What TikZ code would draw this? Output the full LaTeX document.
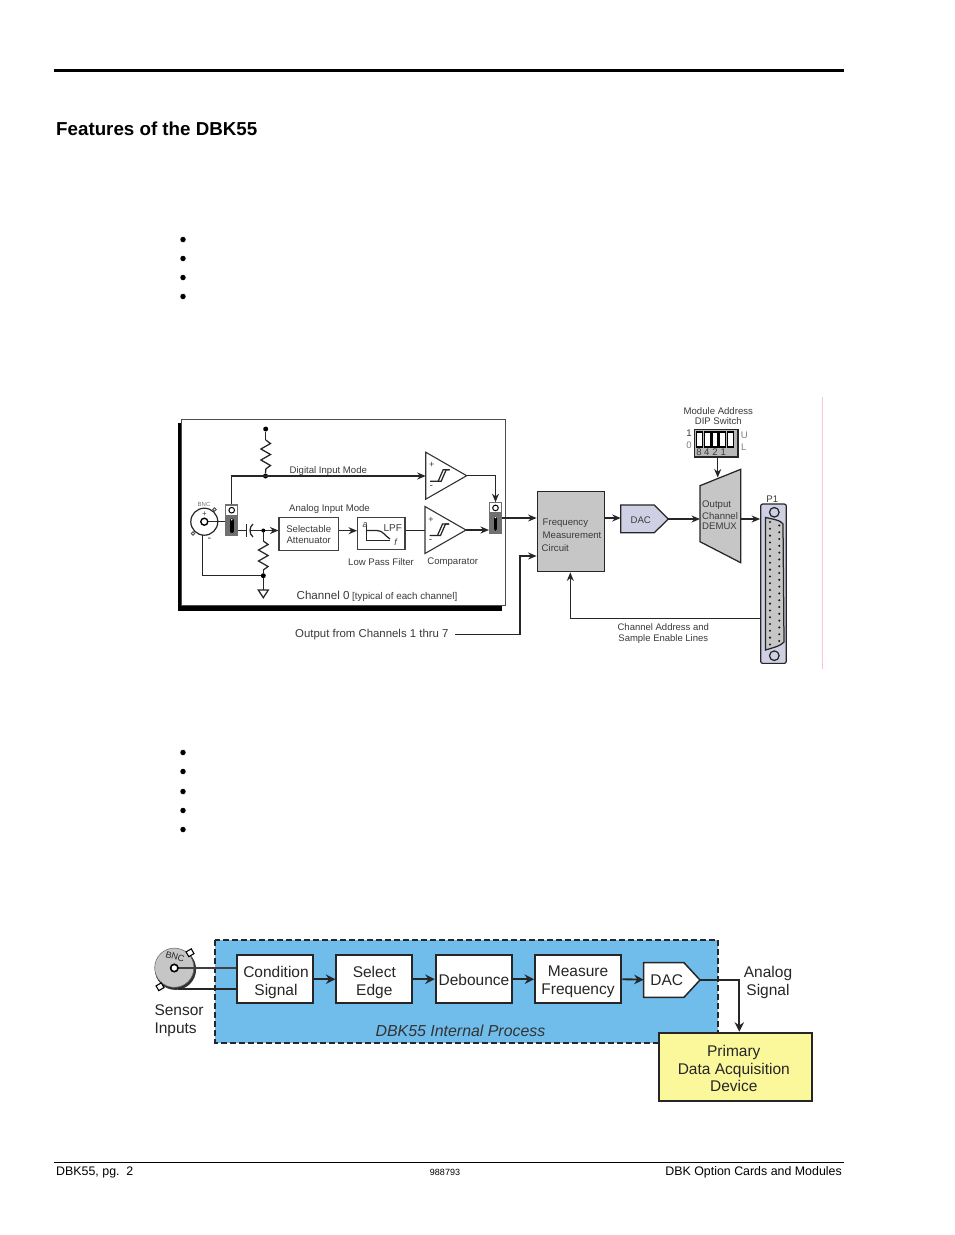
\documentclass[tikz,border=0pt]{standalone}
\usepackage{fontspec}
\setmainfont{Liberation Sans}
\usetikzlibrary{arrows.meta,calc}
\definecolor{txt}{HTML}{3A3A3A}
\definecolor{lav}{HTML}{CFD0E4}
\definecolor{gry}{HTML}{C6C6C6}
\definecolor{dgry}{HTML}{707070}
\definecolor{sky}{HTML}{70BDEC}
\definecolor{yel}{HTML}{FBF89C}
\definecolor{pnk}{HTML}{FFC4CC}
\newcommand{\fs}[1]{\fontsize{#1}{#1}\selectfont}
\tikzset{
  x=1pt,y=-1pt,
  lab/.style={inner sep=0pt,text=txt,font=\fs{9.6}},
  big/.style={inner sep=0pt,text=black!85,font=\fontsize{15.5}{18}\selectfont,align=center},
  box/.style={draw=black,line width=1.2pt,fill=white,inner sep=0pt},
  bluebox/.style={draw=black!85,line width=1.9pt,fill=white,inner sep=0pt,minimum height=47.7pt},
  wire/.style={draw=black!85,line width=1.25pt},
  arr/.style={wire,-{Stealth[length=8.5pt,width=7pt]}},
  bwire/.style={draw=black!85,line width=1.9pt},
  barr/.style={bwire,-{Stealth[length=9.5pt,width=9.5pt]}},
  junc/.style={circle,fill=black,inner sep=0pt,minimum size=5pt},
  bul/.style={circle,fill=black,inner sep=0pt,minimum size=5.5pt},
  zigres/.pic={\draw[wire] (0,0)--(4.8,3.5)--(-4.8,9)--(4.8,14.5)--(-4.8,20)--(4.8,25.5)--(0,29);},
  comp/.pic={
    \draw[line width=1.1pt,draw=black!80,fill=white] (0,-23.5)--(41,0)--(0,23.5)--cycle;
    \node[lab,font=\fs{9}] at (6,-10.5) {+};
    \node[lab,font=\fs{10}] at (5.5,11) {-};
    \draw[wire] (4.5,5.5)--(15.5,5.5)--(20.5,-6)--(24,-6);
    \draw[wire] (12.5,5.5)--(17.5,-6)--(24,-6);
  },
  swtop/.style={draw=dgry,line width=1.1pt,fill=white,inner sep=0pt,minimum width=12pt,minimum height=10.4pt},
  swlow/.style={draw=dgry,line width=1.1pt,fill=dgry,inner sep=0pt,minimum width=12pt,minimum height=20pt},
}
\begin{document}
\begin{tikzpicture}
\useasboundingbox (0,0) rectangle (954,1235);
\fill[white] (0,0) rectangle (954,1235);
% page furniture
\fill[black] (54,68.8) rectangle (844,72);
\node[anchor=west,inner sep=0pt,font=\bfseries\fs{18.75}] (title) at (56,129) {Features of the DBK55};
\foreach \yy in {239.5,258.5,277.5,296.5,752.5,771.5,791.5,810.5,829.5}
  \node[bul] at (183,\yy) {};
\draw[black,line width=.8pt] (54,1162.5) -- (844,1162.5);
\node[anchor=west,inner sep=0pt,font=\fs{12.4}] (fl) at (56,1172) {DBK55, pg.\ \ 2};
\node[inner sep=0pt,font=\fs{9}] (fc) at (445,1172.5) {988793};
\node[anchor=east,inner sep=0pt,font=\fs{12.4}] (fr) at (842,1172) {DBK Option Cards and Modules};
\draw[pnk,line width=.9pt] (822.7,397) -- (822.7,669);

% ---------- channel box
\fill[black] (178,423) rectangle (501.5,610.5);
\draw[draw=black!70,line width=1pt,fill=white] (181.7,419) rectangle (505,605);

% digital path
\node[junc] (vcc) at (265.7,429) {};
\node[junc] (dj) at (265.5,476) {};
\draw[wire] (vcc) -- (265.7,440);
\pic at (265.7,440) {zigres};
\draw[wire] (265.7,469) -- (dj);
\pic at (425.7,475.7) {comp};
\coordinate (c1in) at (425.7,476);
\coordinate (c1out) at (466.7,475.7);
\node[swtop] (s1t) at (231.7,510.2) {};
\node[swlow] (s1l) at (231.7,525.2) {};
\node[swtop] (s2t) at (495.5,507.9) {};
\node[swlow] (s2l) at (495.5,523) {};
\draw[arr] (s1t.north) |- (c1in);
\draw[arr] (c1out) -| (s2t.north);
\foreach \nn in {s1t,s2t} \draw[black,line width=1pt,fill=white] (\nn) circle (2.8);
\foreach \nn in {s1l,s2l}{
  \draw[black,line width=3.6pt,line cap=round] ($(\nn)+(0,-5)$) -- ($(\nn)+(0,6)$);
  \fill[white] ($(\nn)+(0,-5.5)$) circle (.9);
}
% BNC
\draw[black!85,line width=1.2pt,fill=white] (204.3,521.7) circle (13.5);
\draw[black,line width=1.4pt,fill=white] (204.3,521.7) circle (3.5);
\draw[black!70,line width=.9pt,fill=white] (214.5,509.5) circle (1.7);
\draw[black!70,line width=.9pt,fill=white] (193,533.5) circle (1.7);
\coordinate (bnc) at (207.8,521.7);
\coordinate (bncb) at (202.7,535);
\draw[wire] (bnc) -- (s1l.west |- bnc);
\node[lab,font=\fs{6},text=black!55] (bnct) at (204,504.5) {BNC};
\node[lab,font=\fs{8}] (bp) at (204.5,514) {+};
\node[lab,font=\fs{11}] (bm) at (209.5,540) {-};

% analog path
\node[box,minimum width=59.3pt,minimum height=33pt,draw=black!75] (att) at (308.7,534.2) {};
\node[lab,align=center,font=\fontsize{9.6}{10.6}\selectfont] (attt) at (308.7,534.5) {Selectable\\Attenuator};
\node[box,minimum width=47.3pt,minimum height=32pt,draw=black!75] (lpf) at (381.3,533.3) {};
\coordinate (cap) at (246.5,530.5);
\coordinate (cj) at (263.3,530.5);
\draw[wire,line width=1.4pt] (s1l.east |- cap) -- (cap);
\draw[wire] (246.8,524) -- (246.8,537);
\draw[wire] (253,524) .. controls (249,527) and (249,534) .. (253,537);
\draw[arr] (249.5,530.5) -- (att.west |- cj);
\node[junc,minimum size=4pt] at (cj) {};
\draw[wire] (cj) -- (263.3,541);
\pic at (263.3,541) {zigres};
\node[junc] (gj) at (263.3,575.7) {};
\draw[wire] (263.3,570) -- (gj);
\draw[wire] (bncb) |- (gj);
\draw[wire] (gj) -- (263.3,590);
\draw[wire,fill=white] (258.3,590) -- (268.3,590) -- (263.3,597.7) -- cycle;
\draw[arr] (att.east |- 0,530.7) -- (lpf.west |- 0,530.7);
% LPF inner
\draw[wire] (366.7,525) -- (366.7,540.5) -- (390,540.5);
\draw[wire] (366.7,530.5) -- (377,530.5) .. controls (383,530.5) and (385,536) .. (390,539);
\node[lab,font=\itshape\fs{9}] (lpfa) at (365,525.5) {a};
\node[lab,font=\fs{10}] (lpft) at (392.7,528) {LPF};
\node[lab,font=\itshape\fs{9}] (lpff) at (395.7,542) {f};
\pic at (425,530) {comp};
\coordinate (c2in) at (425,530.7);
\coordinate (c2out) at (465.7,530);
\draw[wire] (lpf.east |- c2in) -- (c2in);
\draw[arr] (c2out) -- (s2l.west |- c2out);

\node[lab] (dim) at (328.3,471.3) {Digital Input Mode};
\node[lab] (aim) at (329.5,509) {Analog Input Mode};
\node[lab] (lpl) at (381,561.8) {Low Pass Filter};
\node[lab] (cpl) at (452.7,562.3) {Comparator};
\node[lab,anchor=base] (chl) at (377,599) {{\fs{11.6}Channel 0} {\fs{9.8}[typical of each channel]}};

% ---------- right half
\node[box,draw=black!85,fill=gry,minimum width=67.4pt,minimum height=80pt,line width=1.4pt] (fmc) at (571,531.7) {};
\node[lab,anchor=west] (fm1) at (542.5,523.5) {Frequency};
\node[lab,anchor=west] (fm2) at (542.5,535.3) {Measurement};
\node[lab,anchor=west] (fm3) at (541.5,548.3) {Circuit};
\draw[arr] (s2l.east |- 0,518) -- (fmc.west |- 0,518);
\node[lab,anchor=west,font=\fs{11.4}] (outl) at (295,635) {Output from Channels 1 thru 7};
\coordinate (ol) at (455,634.3);
\coordinate (ol2) at (520,634.3);
\coordinate (ol3) at (520,556);
\draw[arr] (ol) -- (ol2) -- (ol3) -- (fmc.west |- ol3);
% DAC
\coordinate (dacl) at (620.7,519);
\coordinate (dacr) at (668.3,519);
\draw[wire,fill=lav] (620.7,505) -- (654.3,505) -- (dacr) -- (654.3,532.7) -- (620.7,532.7) -- cycle;
\node[lab] (dact) at (640.7,519.8) {DAC};
\draw[arr] (fmc.east |- dacl) ++(0,-1) -- (dacl |- 0,518);
% DEMUX
\draw[wire,fill=gry] (700,485.7) -- (740.7,469.3) -- (740.7,562.7) -- (700,541.7) -- cycle;
\coordinate (dml) at (700,519);
\coordinate (dmr) at (740.7,519);
\coordinate (dmt) at (717.7,477.5);
\draw[arr] (dacr) -- (dml);
\node[lab,anchor=west] (dm1) at (702,505) {Output};
\node[lab,anchor=west] (dm2) at (702,516) {Channel};
\node[lab,anchor=west] (dm3) at (702,526.5) {DEMUX};
% P1
\node[draw=black!85,line width=1.2pt,fill=lav,rounded corners=2pt,inner sep=0pt,minimum width=25.6pt,minimum height=159.3pt] (p1) at (773.5,583.7) {};
\node[lab] (p1t) at (772.3,499) {P1};
\draw[arr] (dmr) -- (p1.west |- dmr);
\draw[wire,fill=lav] (774.3,512.3) circle (4.8);
\draw[wire,fill=lav] (774.3,655.7) circle (4.8);
\draw[wire,fill=gry] (765.5,517.5) .. controls (772,519) and (781,520) .. (783,524) -- (784,642) .. controls (781,646) and (772,648) .. (765.5,650) -- cycle;
\foreach \i in {0,...,18} \fill[black!90] (770,522+\i*6.8) circle (1.15);
\foreach \i in {0,...,17} \fill[black!90] (779.3,525.4+\i*6.8) circle (1.15);
\coordinate (ret) at (570.3,618.3);
\draw[arr] (p1.west |- ret) -- (ret) -- (fmc.south -| ret);
\node[lab,align=center,font=\fontsize{9.5}{11}\selectfont] (chad) at (663.3,633.5) {Channel Address and\\Sample Enable Lines};
% DIP
\node[draw=black!85,line width=1.2pt,fill=black!28,inner sep=0pt,minimum width=43.7pt,minimum height=27.3pt] (dip) at (716.2,443.3) {};
\foreach \xx in {696.6,704.3,712,719.7,727.4}
  \draw[black,line width=1.1pt,fill=white] (\xx,432) rectangle ++(6,15);
\foreach \xx/\ll in {699/8,706.7/4,715/2,723.3/1}
  \node[lab,font=\fs{9.6}] at (\xx,452.6) {\ll};
\node[lab] (d1) at (689,433) {1};
\node[lab,text=black!50] (d0) at (689,445) {0};
\node[lab,text=black!50] (du) at (744.3,435.7) {U};
\node[lab,text=black!50] (dl) at (743.7,446.7) {L};
\node[lab,align=center,font=\fontsize{9.6}{10.4}\selectfont] (mad) at (718.3,416.3) {Module Address\\DIP Switch};
\draw[arr] (dip.south -| dmt) -- (dmt);

% ---------- second diagram
\draw[draw=black!85,line width=1.7pt,dash pattern=on 6pt off 3pt,fill=sky] (215.3,940) rectangle (718,1042.7);
\node[inner sep=0pt,text=black!80,font=\itshape\fs{15.9}] (proc) at (460.5,1031) {DBK55 Internal Process};
\node[bluebox,minimum width=76pt] (cond) at (275,979.2) {};
\node[big] (condt) at (276,982) {Condition\\Signal};
\node[bluebox,minimum width=76pt] (sel) at (374.3,979.2) {};
\node[big] (selt) at (374.3,982) {Select\\Edge};
\node[bluebox,minimum width=76.6pt] (deb) at (474,979.2) {};
\node[big] (debt) at (474,979.5) {Debounce};
\node[bluebox,minimum width=86.3pt] (mea) at (578.2,979.2) {};
\node[big] (meat) at (578,982) {Measure\\Frequency};
\draw[barr] (cond) -- (sel);
\draw[barr] (sel) -- (deb);
\draw[barr] (deb) -- (mea);
\coordinate (d2l) at (643.7,979.7);
\coordinate (d2r) at (700,980);
\draw[barr] (mea.east) -- (d2l);
\draw[draw=black!85,line width=1.5pt,fill=white] (643.7,962.7) -- (684,962.7) -- (d2r) -- (684,997.3) -- (643.7,997.3) -- cycle;
\node[big] (d2t) at (666.7,980.5) {DAC};
\node[draw=black!85,line width=1.9pt,fill=yel,inner sep=0pt,minimum width=153pt,minimum height=68pt] (pri) at (735.2,1066.7) {};
\node[text=black!85,inner sep=0pt,align=center,font=\fontsize{15.5}{17.6}\selectfont] (prit) at (733.8,1068.5) {Primary\\Data Acquisition\\Device};
\coordinate (d2c) at (739.3,980);
\draw[barr] (d2r) -- (d2c) -- (d2c |- pri.north);
\node[big] (ant) at (768,982.8) {Analog\\Signal};
% sensor BNC
\fill[black!80] (175.5,969.3) circle (20.6);
\draw[draw=black!60,line width=.5pt,fill=gry] (174.3,967.7) circle (19.6);
\draw[black,line width=1.1pt,fill=white,rotate around={30:(190,952.7)}] (187,950) rectangle (193,955.5);
\draw[black,line width=1.1pt,fill=white,rotate around={30:(160,986.7)}] (157,984) rectangle (163,989.5);
\coordinate (sn1) at (178,968.3);
\coordinate (sn2) at (178,989);
\draw[draw=black!75,line width=1.7pt] (sn1) -- (cond.west |- sn1);
\draw[draw=black!85,line width=1.9pt] (sn2) -- (cond.west |- sn2);
\draw[black,line width=1.6pt,fill=white] (174.3,968) circle (3.7);
\node[inner sep=0pt,font=\fs{9},text=black!85,rotate=-15] (bn2) at (175,956.5) {BNC};
\node[big,align=left,anchor=west] (sens) at (154.3,1020.3) {Sensor\\Inputs};
\end{tikzpicture}
\end{document}
